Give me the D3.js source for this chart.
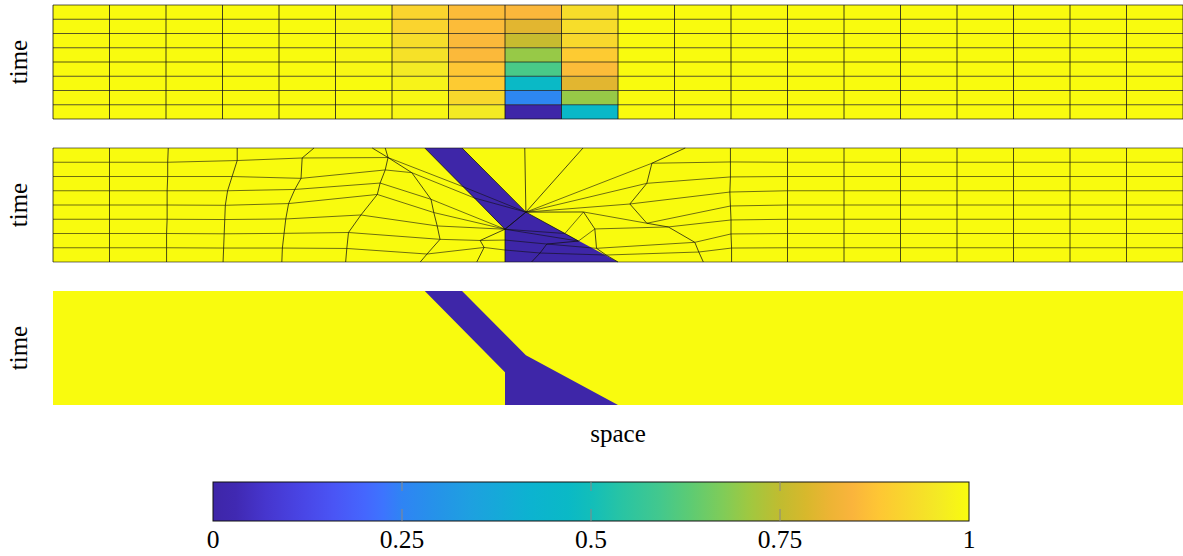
<!DOCTYPE html>
<html>
<head>
<meta charset="utf-8">
<script src="https://cdn.jsdelivr.net/npm/d3@7"></script>
<style>
  body { margin: 0; background: #fff; }
  text { font-family: 'Liberation Serif', 'Times New Roman', serif; }
</style>
</head>
<body>
<div id="chart"></div>
<script>
var width = 1183
var height = 556

// colour map (parula-like)
var cmapStops = [0, 0.03, 0.07, 0.12, 0.16, 0.2, 0.225, 0.25, 0.29, 0.34, 0.42, 0.47, 0.5,
  0.54, 0.59, 0.63, 0.675, 0.71, 0.75, 0.785, 0.815, 0.845, 0.88, 0.92, 0.96, 1]
var cmapColors = ['#3e26a8', '#4029b2', '#4636ce', '#4946e6', '#4a55f5', '#4566fe', '#3d74fe',
  '#2f84f4', '#2691ea', '#1ea0e0', '#0cb3d0', '#0ab9c6', '#12beba', '#28c4a4', '#42c88e',
  '#5ccb74', '#80cc58', '#a0c840', '#c0bc30', '#d8b82c', '#ecb434', '#fab43c', '#fec634',
  '#f8d82c', '#f4ea24', '#f9fb0e']

// top panel: cell values, rows from latest time (top) to earliest (bottom), 20 space cells
var cellValues = [
  [1, 1, 1, 1, 1, 0.99, 0.91, 0.86, 0.85, 0.93, 1, 1, 1, 1, 1, 1, 1, 1, 1, 1],
  [1, 1, 1, 1, 1, 0.99, 0.91, 0.86, 0.80, 0.93, 1, 1, 1, 1, 1, 1, 1, 1, 1, 1],
  [1, 1, 1, 1, 1, 0.99, 0.93, 0.855, 0.76, 0.92, 1, 1, 1, 1, 1, 1, 1, 1, 1, 1],
  [1, 1, 1, 1, 1, 0.99, 0.94, 0.855, 0.70, 0.89, 1, 1, 1, 1, 1, 1, 1, 1, 1, 1],
  [1, 1, 1, 1, 1, 0.99, 0.96, 0.88, 0.60, 0.86, 1, 1, 1, 1, 1, 1, 1, 1, 1, 1],
  [1, 1, 1, 1, 1, 1, 0.98, 0.89, 0.47, 0.80, 1, 1, 1, 1, 1, 1, 1, 1, 1, 1],
  [1, 1, 1, 1, 1, 1, 0.99, 0.92, 0.26, 0.70, 1, 1, 1, 1, 1, 1, 1, 1, 1, 1],
  [1, 1, 1, 1, 1, 1, 0.99, 0.96, 0.00, 0.46, 1, 1, 1, 1, 1, 1, 1, 1, 1, 1]
]

// middle panel: adapted space-time mesh, one array per mesh column,
// node levels listed from time 0 (bottom) to time 8 (top)
var levels = [0, 1, 2, 3, 4, 5, 6, 7, 8]
var meshSpace = [
  [0, 0, 0, 0, 0, 0, 0, 0, 0],
  [1, 1, 1, 1, 1, 1, 1, 1, 1],
  [2.01, 2.01, 2.01, 2.02, 2.02, 2.02, 2.03, 2.03, 2.04],
  [3.01, 3.02, 3.03, 3.04, 3.05, 3.09, 3.17, 3.26, 3.26],
  [4.05, 4.06, 4.09, 4.12, 4.17, 4.28, 4.39, 4.41, 4.62],
  [5.18, 5.2, 5.23, 5.45, 5.74, 5.79, 5.88, 5.93, 5.65],
  [6.5, 6.62, 6.85, 6.8, 6.74, 6.69, 6.35, 5.93, 5.88],
  [7.5, 7.63, 7.56, 8, 8, 8, 7.46, 7.26, 6.58],
  [8, 8, 8, 8, 8, 8.37, 8.37, 8.37, 7.24],
  [8.47, 8.62, 8.74, 9.3, 9.06, 8.37, 8.37, 8.37, 8.35],
  [10, 9.79, 9.62, 9.59, 9.39, 8.37, 8.37, 8.37, 9.38],
  [11.51, 11.43, 11.36, 10.89, 10.51, 10.21, 10.51, 10.6, 11.19],
  [12.01, 12.01, 12, 12, 11.99, 11.98, 11.99, 11.99, 11.99],
  [13, 13, 13, 13, 13, 13, 13, 13, 13],
  [14, 14, 14, 14, 14, 14, 14, 14, 14],
  [15, 15, 15, 15, 15, 15, 15, 15, 15],
  [16, 16, 16, 16, 16, 16, 16, 16, 16],
  [17, 17, 17, 17, 17, 17, 17, 17, 17],
  [18, 18, 18, 18, 18, 18, 18, 18, 18],
  [19, 19, 19, 19, 19, 19, 19, 19, 19],
  [20, 20, 20, 20, 20, 20, 20, 20, 20]
]
var meshTime = [
  levels, levels, levels,
  [0, 0.98, 1.98, 2.98, 3.98, 5, 6, 7.12, 8],
  [0, 0.98, 2.01, 3.02, 4.1, 5.09, 5.87, 7.3, 8],
  [0, 0.95, 2.07, 3.3, 4.74, 5.54, 6.46, 7.33, 8],
  [0, 0.56, 1.59, 2.53, 3.47, 4.4, 6.27, 7.33, 8],
  [0, 1.02, 1.51, 2.3, 2.3, 2.3, 4.49, 5.28, 8],
  [0, 0.84, 1.54, 2.3, 2.3, 3.5, 3.5, 3.5, 8],
  [0, 0.63, 1.26, 1.47, 2.0, 3.5, 3.5, 3.5, 8],
  [0, 0.49, 0.96, 2.32, 3.51, 3.5, 3.5, 3.5, 8],
  [0, 0.7, 1.38, 2.46, 2.72, 4.07, 5.52, 6.93, 8],
  [0, 0.98, 1.97, 2.95, 3.93, 4.91, 5.97, 7.02, 8],
  levels, levels, levels, levels, levels, levels, levels, levels
]

// shock band (value 0) outline in space/time
var bandSpace = [6.58, 7.24, 8.37, 10, 8, 8]
var bandTime = [8, 8, 3.5, 0, 0, 2.3]

var cbarTicks = [0, 0.25, 0.5, 0.75, 1]
var cbarLabels = ['0', '0.25', '0.5', '0.75', '1']

var panelTops = [5, 148, 291]
var panelHeight = 114

var svg = d3
  .select('#chart')
  .append('svg')
  .attr('width', width)
  .attr('height', height)

var color = d3.scaleLinear().domain(cmapStops).range(cmapColors).clamp(true)

var x = d3.scaleLinear().domain([0, 20]).range([53, 1183])
var yScales = panelTops.map(function(t) {
  return d3.scaleLinear().domain([0, 8]).range([t + panelHeight, t])
})

// ---------- top panel: uniform mesh with cell colours
var yA = yScales[0]
var topG = svg.append('g')
cellValues.forEach(function(row, r) {
  var tHi = 8 - r
  topG
    .append('g')
    .selectAll('rect')
    .data(row)
    .enter()
    .append('rect')
    .attr('x', (d, c) => x(c))
    .attr('y', yA(tHi))
    .attr('width', (d, c) => x(c + 1) - x(c))
    .attr('height', yA(tHi - 1) - yA(tHi))
    .attr('fill', d => color(d))
    .attr('stroke', 'none')
})
topG
  .selectAll('.vline')
  .data(d3.range(0, 21))
  .enter()
  .append('line')
  .attr('class', 'vline')
  .attr('x1', d => x(d))
  .attr('x2', d => x(d))
  .attr('y1', yA(0))
  .attr('y2', yA(8))
  .attr('stroke', '#111')
  .attr('stroke-width', 0.8)
topG
  .selectAll('.hline')
  .data(levels)
  .enter()
  .append('line')
  .attr('class', 'hline')
  .attr('x1', x(0))
  .attr('x2', x(20))
  .attr('y1', d => yA(d))
  .attr('y2', d => yA(d))
  .attr('stroke', '#111')
  .attr('stroke-width', 0.7)

// ---------- middle panel: adapted mesh
var yB = yScales[1]
var midG = svg.append('g')
var band = bandSpace.map((s, i) => [s, bandTime[i]])

midG
  .append('rect')
  .attr('x', x(0))
  .attr('y', yB(8))
  .attr('width', x(20) - x(0))
  .attr('height', yB(0) - yB(8))
  .attr('fill', color(1))

midG
  .append('path')
  .datum(band)
  .attr('d', d3.line().x(d => x(d[0])).y(d => yB(d[1])).curve(d3.curveLinearClosed))
  .attr('fill', color(0))

var meshLine = d3.line().x(d => x(d[0])).y(d => yB(d[1]))

// lines along each mesh column
midG
  .selectAll('.mcol')
  .data(meshSpace.map((col, i) => col.map((s, k) => [s, meshTime[i][k]])))
  .enter()
  .append('path')
  .attr('class', 'mcol')
  .attr('d', meshLine)
  .attr('fill', 'none')
  .attr('stroke', '#111')
  .attr('stroke-width', 0.75)

// lines along each time level
midG
  .selectAll('.mrow')
  .data(levels.map(k => meshSpace.map((col, i) => [col[k], meshTime[i][k]])))
  .enter()
  .append('path')
  .attr('class', 'mrow')
  .attr('d', meshLine)
  .attr('fill', 'none')
  .attr('stroke', '#111')
  .attr('stroke-width', 0.6)

// ---------- bottom panel: exact solution
var yC = yScales[2]
var botG = svg.append('g')
botG
  .append('rect')
  .attr('x', x(0))
  .attr('y', yC(8))
  .attr('width', x(20) - x(0))
  .attr('height', yC(0) - yC(8))
  .attr('fill', color(1))
botG
  .append('path')
  .datum(band)
  .attr('d', d3.line().x(d => x(d[0])).y(d => yC(d[1])).curve(d3.curveLinearClosed))
  .attr('fill', color(0))

// axis labels
yScales.forEach(function(ys) {
  svg
    .append('text')
    .attr('transform', 'translate(27,' + ys(4) + ') rotate(-90)')
    .attr('text-anchor', 'middle')
    .attr('font-size', 25)
    .text('time')
})
svg
  .append('text')
  .attr('x', x(10))
  .attr('y', 442)
  .attr('text-anchor', 'middle')
  .attr('font-size', 25)
  .text('space')

// ---------- colour bar
var cb = { x0: 213, x1: 969, y0: 482, y1: 521 }
var cbx = d3.scaleLinear().domain([0, 1]).range([cb.x0, cb.x1])

var grad = svg
  .append('defs')
  .append('linearGradient')
  .attr('id', 'cbar')
  .attr('x1', '0%')
  .attr('x2', '100%')
  .attr('y1', '0%')
  .attr('y2', '0%')
grad
  .selectAll('stop')
  .data(cmapStops)
  .enter()
  .append('stop')
  .attr('offset', d => d * 100 + '%')
  .attr('stop-color', (d, i) => cmapColors[i])

svg
  .append('rect')
  .attr('x', cb.x0)
  .attr('y', cb.y0)
  .attr('width', cb.x1 - cb.x0)
  .attr('height', cb.y1 - cb.y0)
  .attr('fill', 'url(#cbar)')
  .attr('stroke', '#111')
  .attr('stroke-width', 1)

var cbTicks = svg.append('g')
cbTicks
  .selectAll('.tk-top')
  .data(cbarTicks.slice(1, -1))
  .enter()
  .append('line')
  .attr('class', 'tk-top')
  .attr('x1', d => cbx(d))
  .attr('x2', d => cbx(d))
  .attr('y1', cb.y0)
  .attr('y2', cb.y0 + 9)
  .attr('stroke', '#888')
  .attr('stroke-width', 1)
cbTicks
  .selectAll('.tk-bot')
  .data(cbarTicks.slice(1, -1))
  .enter()
  .append('line')
  .attr('class', 'tk-bot')
  .attr('x1', d => cbx(d))
  .attr('x2', d => cbx(d))
  .attr('y1', cb.y1 - 12)
  .attr('y2', cb.y1)
  .attr('stroke', '#888')
  .attr('stroke-width', 1)
cbTicks
  .selectAll('text')
  .data(cbarTicks)
  .enter()
  .append('text')
  .attr('x', d => cbx(d))
  .attr('y', 548)
  .attr('text-anchor', 'middle')
  .attr('font-size', 25.5)
  .text((d, i) => cbarLabels[i])
</script>
</body>
</html>
